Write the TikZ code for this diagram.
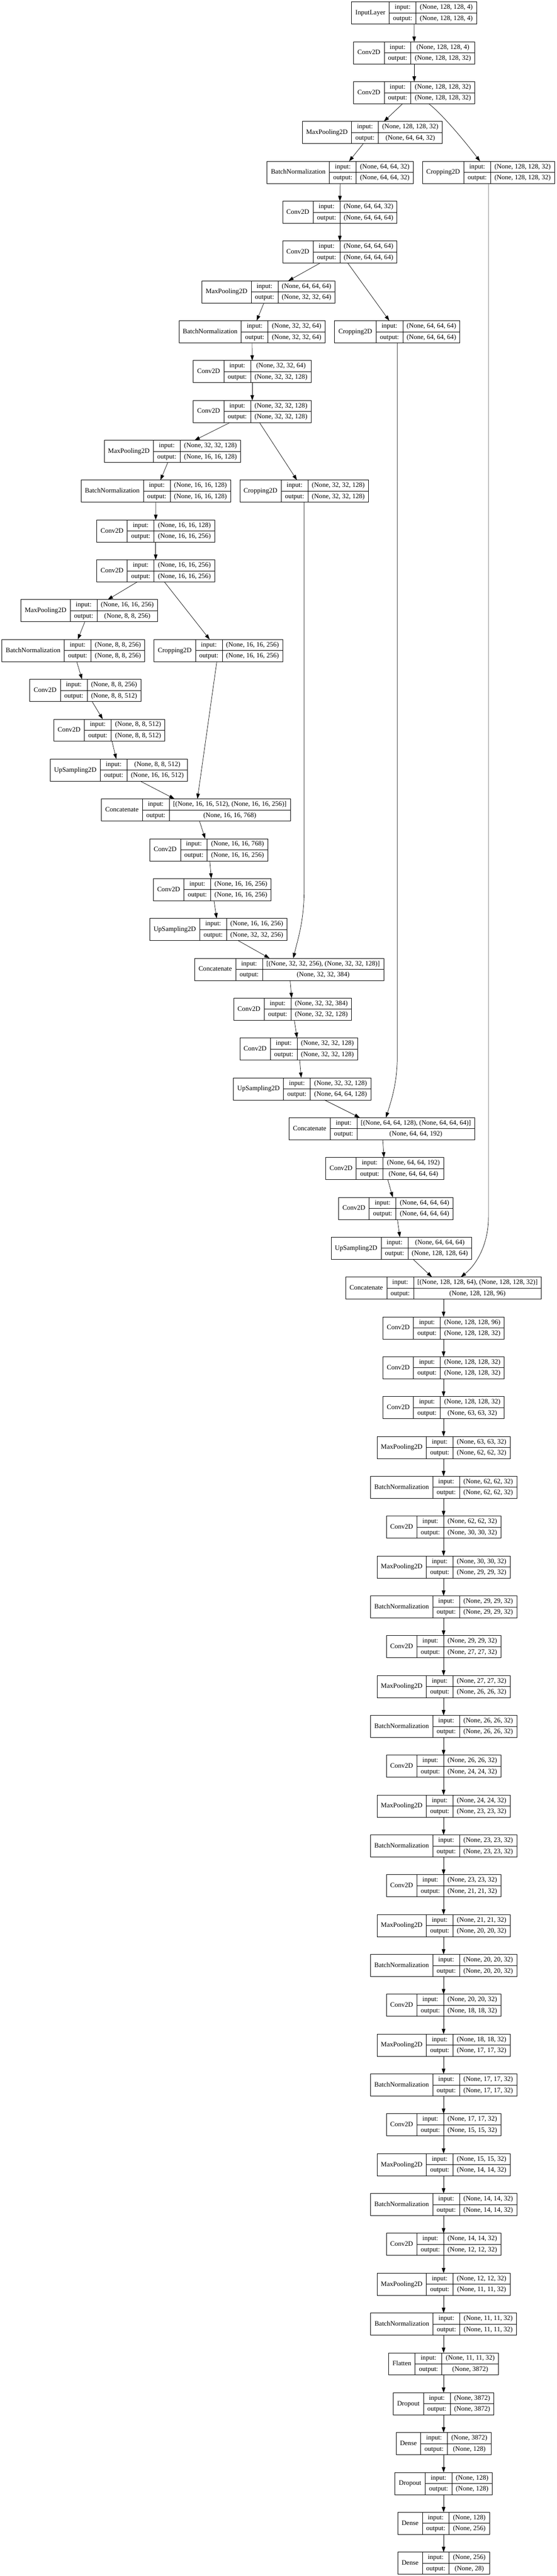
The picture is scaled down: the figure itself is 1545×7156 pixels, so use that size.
\documentclass[tikz,border=0pt]{standalone}
\usepackage{fontspec}
\newfontfamily\layerfont{Liberation Serif}
\usetikzlibrary{arrows.meta}
\newcommand\lfont{\layerfont\fontsize{9.35pt}{11pt}\selectfont}
\newlength\lwA \newlength\lwB \newlength\lwC \newlength\lwT
\tikzset{
  recbox/.style={draw, rectangle, inner sep=0pt, outer sep=0pt, minimum height=30.75pt, line width=0.55pt},
  recline/.style={line width=0.55pt},
  txt/.style={font=\lfont, inner sep=0pt, text height=6.45pt, text depth=1.68pt, anchor=center},
  conn/.style={-{Triangle[length=7.3pt,width=5pt]}, line width=0.5pt},
  measure/.style={inner sep=0pt, outer sep=0pt},
}
% measures the three fields of a record (run inside a node, where fonts work)
\newcommand\measurelayer[3]{%
  \setbox0\hbox{\lfont #1}\global\lwA=\wd0 \global\advance\lwA by 10.7pt
  \setbox0\hbox{\lfont output:}\global\lwB=\wd0 \global\advance\lwB by 10.7pt
  \setbox0\hbox{\lfont #2}\global\lwC=\wd0
  \setbox0\hbox{\lfont #3}\ifdim\wd0>\lwC \global\lwC=\wd0 \fi
  \global\advance\lwC by 10.7pt
  \global\lwT=\lwA \global\advance\lwT by \lwB \global\advance\lwT by \lwC
}
% #1 name, #2 centre x (px), #3 rank, #4 layer, #5 input shape, #6 output shape
\newcommand\layer[6]{%
  \path (0,0) node[measure] {\measurelayer{#4}{#5}{#6}};
  \pgfmathsetmacro\laytop{5.36+(#3-1)*110.69}%
  \node[recbox,minimum width=\lwT] (#1) at (#2,\laytop+30.75) {};
  \draw[recline] ([xshift=\lwA]#1.north west) -- ([xshift=\lwA]#1.south west);
  \draw[recline] ([xshift=\lwA+\lwB]#1.north west) -- ([xshift=\lwA+\lwB]#1.south west);
  \draw[recline] ([xshift=\lwA]#1.west) -- (#1.east);
  \node[txt] at ([xshift=0.5\lwA]#1.west) {#4};
  \node[txt] at ([xshift=\lwA+0.5\lwB,yshift=-7.6875pt]#1.north west) {input:};
  \node[txt] at ([xshift=\lwA+0.5\lwB,yshift=7.6875pt]#1.south west) {output:};
  \node[txt] at ([xshift=\lwA+\lwB+0.5\lwC,yshift=-7.6875pt]#1.north west) {#5};
  \node[txt] at ([xshift=\lwA+\lwB+0.5\lwC,yshift=7.6875pt]#1.south west) {#6};
}
\begin{document}
\begin{tikzpicture}[x=0.5pt,y=-0.5pt]
\fill[white] (0,0) rectangle (1545,7156);
\useasboundingbox (0,0) rectangle (1545,7156);

\layer{n1}{1149}{1}{InputLayer}{(None, 128, 128, 4)}{(None, 128, 128, 4)}
\layer{n2}{1149.5}{2}{Conv2D}{(None, 128, 128, 4)}{(None, 128, 128, 32)}
\layer{n3}{1149.5}{3}{Conv2D}{(None, 128, 128, 32)}{(None, 128, 128, 32)}
\layer{n4}{1033}{4}{MaxPooling2D}{(None, 128, 128, 32)}{(None, 64, 64, 32)}
\layer{n5}{944}{5}{BatchNormalization}{(None, 64, 64, 32)}{(None, 64, 64, 32)}
\layer{c1}{1355.5}{5}{Cropping2D}{(None, 128, 128, 32)}{(None, 128, 128, 32)}
\layer{n6}{943}{6}{Conv2D}{(None, 64, 64, 32)}{(None, 64, 64, 64)}
\layer{n7}{943}{7}{Conv2D}{(None, 64, 64, 64)}{(None, 64, 64, 64)}
\layer{n8}{745}{8}{MaxPooling2D}{(None, 64, 64, 64)}{(None, 32, 32, 64)}
\layer{n9}{699.5}{9}{BatchNormalization}{(None, 32, 32, 64)}{(None, 32, 32, 64)}
\layer{c2}{1102.5}{9}{Cropping2D}{(None, 64, 64, 64)}{(None, 64, 64, 64)}
\layer{n10}{700}{10}{Conv2D}{(None, 32, 32, 64)}{(None, 32, 32, 128)}
\layer{n11}{700}{11}{Conv2D}{(None, 32, 32, 128)}{(None, 32, 32, 128)}
\layer{n12}{478.5}{12}{MaxPooling2D}{(None, 32, 32, 128)}{(None, 16, 16, 128)}
\layer{n13}{432.5}{13}{BatchNormalization}{(None, 16, 16, 128)}{(None, 16, 16, 128)}
\layer{c3}{844}{13}{Cropping2D}{(None, 32, 32, 128)}{(None, 32, 32, 128)}
\layer{n14}{432}{14}{Conv2D}{(None, 16, 16, 128)}{(None, 16, 16, 256)}
\layer{n15}{432}{15}{Conv2D}{(None, 16, 16, 256)}{(None, 16, 16, 256)}
\layer{n16}{247.7}{16}{MaxPooling2D}{(None, 16, 16, 256)}{(None, 8, 8, 256)}
\layer{n17}{203.5}{17}{BatchNormalization}{(None, 8, 8, 256)}{(None, 8, 8, 256)}
\layer{c4}{606}{17}{Cropping2D}{(None, 16, 16, 256)}{(None, 16, 16, 256)}
\layer{n18}{237}{18}{Conv2D}{(None, 8, 8, 256)}{(None, 8, 8, 512)}
\layer{n19}{303.5}{19}{Conv2D}{(None, 8, 8, 512)}{(None, 8, 8, 512)}
\layer{n20}{330}{20}{UpSampling2D}{(None, 8, 8, 512)}{(None, 16, 16, 512)}
\layer{n21}{543.5}{21}{Concatenate}{[(None, 16, 16, 512), (None, 16, 16, 256)]}{(None, 16, 16, 768)}
\layer{n22}{579.5}{22}{Conv2D}{(None, 16, 16, 768)}{(None, 16, 16, 256)}
\layer{n23}{589}{23}{Conv2D}{(None, 16, 16, 256)}{(None, 16, 16, 256)}
\layer{n24}{606}{24}{UpSampling2D}{(None, 16, 16, 256)}{(None, 32, 32, 256)}
\layer{n25}{802.5}{25}{Concatenate}{[(None, 32, 32, 256), (None, 32, 32, 128)]}{(None, 32, 32, 384)}
\layer{n26}{812}{26}{Conv2D}{(None, 32, 32, 384)}{(None, 32, 32, 128)}
\layer{n27}{829}{27}{Conv2D}{(None, 32, 32, 128)}{(None, 32, 32, 128)}
\layer{n28}{838.5}{28}{UpSampling2D}{(None, 32, 32, 128)}{(None, 64, 64, 128)}
\layer{n29}{1060}{29}{Concatenate}{[(None, 64, 64, 128), (None, 64, 64, 64)]}{(None, 64, 64, 192)}
\layer{n30}{1067.5}{30}{Conv2D}{(None, 64, 64, 192)}{(None, 64, 64, 64)}
\layer{n31}{1098.5}{31}{Conv2D}{(None, 64, 64, 64)}{(None, 64, 64, 64)}
\layer{n32}{1114}{32}{UpSampling2D}{(None, 64, 64, 64)}{(None, 128, 128, 64)}
\layer{n33}{1231}{33}{Concatenate}{[(None, 128, 128, 64), (None, 128, 128, 32)]}{(None, 128, 128, 96)}
\layer{n34}{1231}{34}{Conv2D}{(None, 128, 128, 96)}{(None, 128, 128, 32)}
\layer{n35}{1231}{35}{Conv2D}{(None, 128, 128, 32)}{(None, 128, 128, 32)}
\layer{n36}{1231}{36}{Conv2D}{(None, 128, 128, 32)}{(None, 63, 63, 32)}
\layer{n37}{1231}{37}{MaxPooling2D}{(None, 63, 63, 32)}{(None, 62, 62, 32)}
\layer{n38}{1231}{38}{BatchNormalization}{(None, 62, 62, 32)}{(None, 62, 62, 32)}
\layer{n39}{1231}{39}{Conv2D}{(None, 62, 62, 32)}{(None, 30, 30, 32)}
\layer{n40}{1231}{40}{MaxPooling2D}{(None, 30, 30, 32)}{(None, 29, 29, 32)}
\layer{n41}{1231}{41}{BatchNormalization}{(None, 29, 29, 32)}{(None, 29, 29, 32)}
\layer{n42}{1231}{42}{Conv2D}{(None, 29, 29, 32)}{(None, 27, 27, 32)}
\layer{n43}{1231}{43}{MaxPooling2D}{(None, 27, 27, 32)}{(None, 26, 26, 32)}
\layer{n44}{1231}{44}{BatchNormalization}{(None, 26, 26, 32)}{(None, 26, 26, 32)}
\layer{n45}{1231}{45}{Conv2D}{(None, 26, 26, 32)}{(None, 24, 24, 32)}
\layer{n46}{1231}{46}{MaxPooling2D}{(None, 24, 24, 32)}{(None, 23, 23, 32)}
\layer{n47}{1231}{47}{BatchNormalization}{(None, 23, 23, 32)}{(None, 23, 23, 32)}
\layer{n48}{1231}{48}{Conv2D}{(None, 23, 23, 32)}{(None, 21, 21, 32)}
\layer{n49}{1231}{49}{MaxPooling2D}{(None, 21, 21, 32)}{(None, 20, 20, 32)}
\layer{n50}{1231}{50}{BatchNormalization}{(None, 20, 20, 32)}{(None, 20, 20, 32)}
\layer{n51}{1231}{51}{Conv2D}{(None, 20, 20, 32)}{(None, 18, 18, 32)}
\layer{n52}{1231}{52}{MaxPooling2D}{(None, 18, 18, 32)}{(None, 17, 17, 32)}
\layer{n53}{1231}{53}{BatchNormalization}{(None, 17, 17, 32)}{(None, 17, 17, 32)}
\layer{n54}{1231}{54}{Conv2D}{(None, 17, 17, 32)}{(None, 15, 15, 32)}
\layer{n55}{1231}{55}{MaxPooling2D}{(None, 15, 15, 32)}{(None, 14, 14, 32)}
\layer{n56}{1231}{56}{BatchNormalization}{(None, 14, 14, 32)}{(None, 14, 14, 32)}
\layer{n57}{1231}{57}{Conv2D}{(None, 14, 14, 32)}{(None, 12, 12, 32)}
\layer{n58}{1231}{58}{MaxPooling2D}{(None, 12, 12, 32)}{(None, 11, 11, 32)}
\layer{n59}{1231}{59}{BatchNormalization}{(None, 11, 11, 32)}{(None, 11, 11, 32)}
\layer{n60}{1231}{60}{Flatten}{(None, 11, 11, 32)}{(None, 3872)}
\layer{n61}{1231}{61}{Dropout}{(None, 3872)}{(None, 3872)}
\layer{n62}{1231}{62}{Dense}{(None, 3872)}{(None, 128)}
\layer{n63}{1231}{63}{Dropout}{(None, 128)}{(None, 128)}
\layer{n64}{1231}{64}{Dense}{(None, 128)}{(None, 256)}
\layer{n65}{1231}{65}{Dense}{(None, 256)}{(None, 28)}

% main chain
\foreach \a/\b in {n1/n2,n2/n3,n3/n4,n4/n5,n5/n6,n6/n7,n7/n8,n8/n9,n9/n10,n10/n11,
  n11/n12,n12/n13,n13/n14,n14/n15,n15/n16,n16/n17,n17/n18,n18/n19,n19/n20,n20/n21,
  n21/n22,n22/n23,n23/n24,n24/n25,n25/n26,n26/n27,n27/n28,n28/n29,n29/n30,n30/n31,
  n31/n32,n32/n33,n33/n34,n34/n35,n35/n36,n36/n37,n37/n38,n38/n39,n39/n40,n40/n41,
  n41/n42,n42/n43,n43/n44,n44/n45,n45/n46,n46/n47,n47/n48,n48/n49,n49/n50,n50/n51,
  n51/n52,n52/n53,n53/n54,n54/n55,n55/n56,n56/n57,n57/n58,n58/n59,n59/n60,n60/n61,
  n61/n62,n62/n63,n63/n64,n64/n65}
  \draw[conn] (\a) -- (\b);

% branches to the cropping layers
\draw[conn] (n3) .. controls (1225,315) and (1288,390) .. (c1);
\draw[conn] (n7) -- (c2);
\draw[conn] (n11) -- (c3);
\draw[conn] (n15) -- (c4);

% skip connections into the concatenations
\draw[conn] (c4) -- (n21);
\draw[conn] (c3) -- (844,2470) .. controls (844,2560) and (826,2610) .. ([xshift=5.75pt]n25.north);
\draw[conn] (c2) -- (1102.5,2934) .. controls (1102.5,3010) and (1085,3060) .. ([xshift=5.5pt]n29.north);
\draw[conn] (c1) -- (1355.5,3380) .. controls (1355.5,3460) and (1320,3515) .. ([xshift=24pt]n33.north);
\end{tikzpicture}
\end{document}
